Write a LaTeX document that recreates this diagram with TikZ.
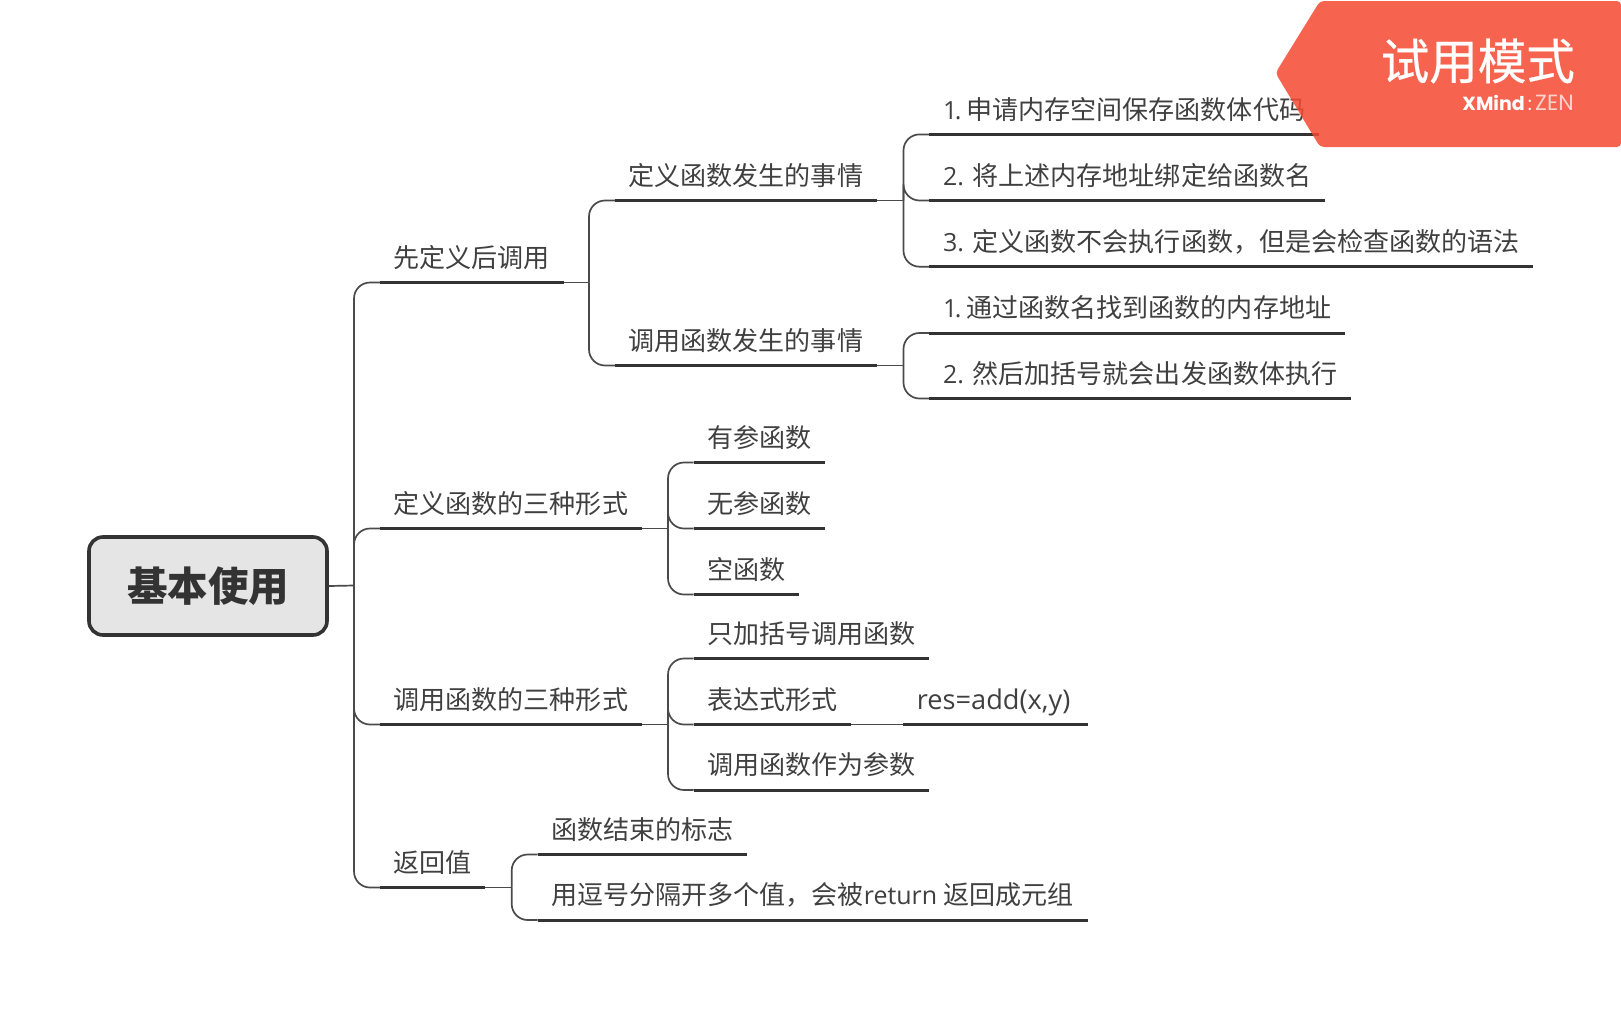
\documentclass[tikz,border=0pt]{standalone}
\usepackage{fontspec}
\setmainfont{Noto Sans CJK SC}
\newfontfamily\xmfont{Poppins}
\newfontfamily\lat{Open Sans}
\newfontfamily\wmfont[FakeBold=0.5]{Noto Sans CJK SC}
\newcommand{\la}[1]{{\lat\fontsize{25}{30}\selectfont #1}}
\definecolor{ink}{HTML}{333333}
\definecolor{wire}{HTML}{4A4A4A}
\definecolor{txt}{HTML}{404040}
\definecolor{badge}{HTML}{F54931}
\tikzset{
  topic/.style={anchor=south west,inner xsep=13.4pt,inner ysep=0pt,text height=24pt,text depth=15pt,text=txt,font=\fontsize{26.05}{30}\selectfont},
  rootbox/.style={draw=ink,line width=3.6pt,fill=black!10,rounded corners=14pt,minimum width=238pt,minimum height=98pt,inner sep=0pt,text=ink,font=\fontsize{40.5}{44}\selectfont\bfseries},
  conn/.style={draw=wire,line width=1.7pt,rounded corners=16pt},
  ul/.style={draw=ink,line width=3pt}
}
\begin{document}
\begin{tikzpicture}[x=1pt,y=-1pt]
\useasboundingbox (0,0) rectangle (1621,1009);
\node[rootbox] (root) at (208,586) {基本使用};
\node[topic] (a) at (380,282.5) {先定义后调用};
\node[topic] (b) at (380,528.5) {定义函数的三种形式};
\node[topic] (c) at (380,724.5) {调用函数的三种形式};
\node[topic] (d) at (380,887.5) {返回值};
\node[topic] (a1) at (615,200.5) {定义函数发生的事情};
\node[topic] (a2) at (615,365.5) {调用函数发生的事情};
\node[topic] (a11) at (929.4,134.4) {\la{1\kern-2.5pt.\kern-1.5pt\ }申请内存空间保存函数体代码};
\node[topic] (a12) at (929.4,200.5) {\la{2. }将上述内存地址绑定给函数名};
\node[topic] (a13) at (929.4,266.7) {\la{3. }定义函数不会执行函数，但是会检查函数的语法};
\node[topic] (a21) at (929.4,333) {\la{1\kern-2.5pt.\kern-1.5pt\ }通过函数名找到函数的内存地址};
\node[topic] (a22) at (929.4,398.5) {\la{2. }然后加括号就会出发函数体执行};
\node[topic] (b1) at (693.7,462.5) {有参函数};
\node[topic] (b2) at (693.7,528.5) {无参函数};
\node[topic] (b3) at (693.7,594.5) {空函数};
\node[topic] (c1) at (693.7,658.5) {只加括号调用函数};
\node[topic] (c2) at (693.7,724.5) {表达式形式};
\node[topic] (c3) at (693.7,790) {调用函数作为参数};
\node[topic] (c21) at (903.2,724.5) {{\lat\fontsize{27.2}{30}\selectfont res=add(x,y)}\kern4pt};
\node[topic] (d1) at (537.6,854.5) {函数结束的标志};
\node[topic] (d2) at (537.6,920) {用逗号分隔开多个值，会被\la{return }返回成元组};
\coordinate (sr) at (354,585.5);
\coordinate (sa) at (589,282.5);
\coordinate (sa1) at (903.5,200.5);
\coordinate (sa2) at (903.5,365.5);
\coordinate (sb) at (668,528.5);
\coordinate (sc) at (668,724.5);
\coordinate (sd) at (511.7,887.5);
\draw[conn] (root.east) -- (sr);
\foreach \n in {a,b,c,d} \draw[conn] (sr) |- (\n.south west);
\draw[conn] (a.south east) -- (sa);
\foreach \n in {a1,a2} \draw[conn] (sa) |- (\n.south west);
\draw[conn] (a1.south east) -- (sa1);
\foreach \n in {a11,a12,a13} \draw[conn] (sa1) |- (\n.south west);
\draw[conn] (a2.south east) -- (sa2);
\foreach \n in {a21,a22} \draw[conn] (sa2) |- (\n.south west);
\draw[conn] (b.south east) -- (sb);
\foreach \n in {b1,b2,b3} \draw[conn] (sb) |- (\n.south west);
\draw[conn] (c.south east) -- (sc);
\foreach \n in {c1,c2,c3} \draw[conn] (sc) |- (\n.south west);
\draw[conn] (c2.south east) -- (c21.south west);
\draw[conn] (d.south east) -- (sd);
\foreach \n in {d1,d2} \draw[conn] (sd) |- (\n.south west);
\foreach \n in {a,b,c,d,a1,a2,a11,a12,a13,a21,a22,b1,b2,b3,c1,c2,c3,c21,d1,d2}
  \draw[ul] (\n.south west) -- (\n.south east);
\fill[badge,fill opacity=.85,rounded corners=4pt] (1320,1) -- (1621,1) -- (1621,147) -- (1320,147) -- (1275.5,73) -- cycle;
\node[anchor=east,inner sep=0pt,text=white,font=\fontsize{48.5}{52}\wmfont\selectfont] (wm) at (1575,61) {试用模式};
\node[anchor=east,inner sep=0pt,text=white,font=\fontsize{19}{22}\selectfont] (xm) at (1574,103) {\xmfont\textbf{XMind}\,:\,{\fontsize{22}{22}\selectfont\textcolor{white!75!badge}{ZEN}}};
\end{tikzpicture}
\end{document}
